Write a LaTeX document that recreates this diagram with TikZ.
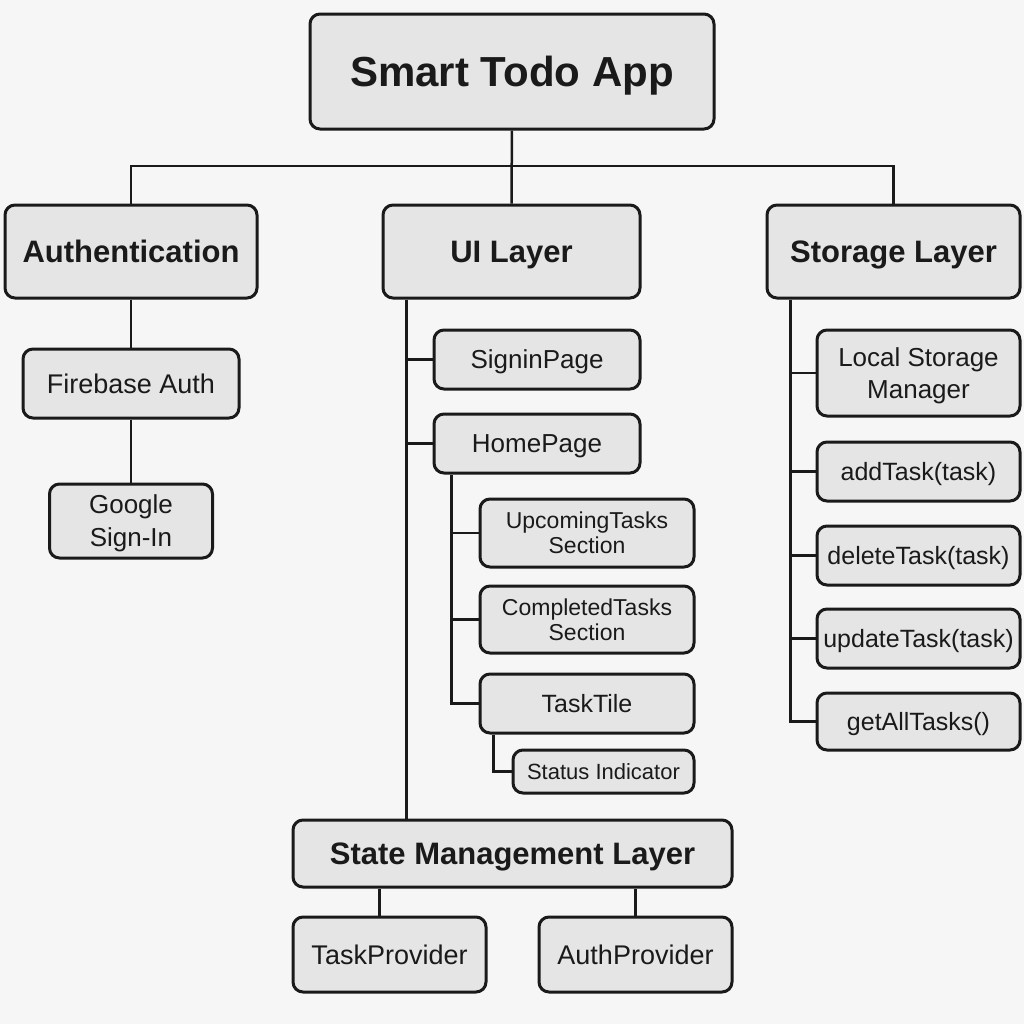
\documentclass[tikz,border=0pt]{standalone}
\usepackage{fontspec}
\setmainfont{Liberation Sans}
\usetikzlibrary{positioning}
\definecolor{paper}{HTML}{F6F6F6}
\definecolor{boxfill}{HTML}{E5E5E5}
\definecolor{ink}{HTML}{1A1A1A}

\begin{document}
\begin{tikzpicture}[x=0.5pt, y=-0.5pt, node distance=11pt,
        box/.style={draw=ink, fill=boxfill, line width=1.5pt, rounded corners=5pt, inner sep=0pt, align=center, text=ink, text depth=0pt},
        root/.style={box, minimum width=202pt, minimum height=57.5pt, text height=15.1pt, font=\bfseries\fontsize{21}{25}\selectfont},
        layer/.style={box, minimum height=46.5pt, text height=11.2pt, font=\bfseries\fontsize{15.5}{18}\selectfont},
        module/.style={box, text height=9.7pt, font=\fontsize{13.5}{16.5}\selectfont},
        page/.style={box, minimum width=103pt, minimum height=29.5pt, text height=9.4pt, font=\fontsize{13}{16}\selectfont},
        method/.style={box, minimum width=101.5pt, minimum height=29.5pt, text height=9pt, font=\fontsize{12.5}{15}\selectfont},
        part/.style={box, minimum width=107pt, text height=20.8pt, font=\fontsize{11.5}{12.5}\selectfont},
        wire/.style={draw=ink, line width=1.25pt}]

        \fill[paper] (0,0) rectangle (1024,1024);
        \useasboundingbox (0,0) rectangle (1024,1024);

        \node[root] (app) at (512,71.5) {Smart Todo App};
        \node[layer, minimum width=126pt] (auth) at (131,251.5) {Authentication};
        \node[layer, minimum width=128.5pt] (ui) at (511.5,251.5) {UI Layer};
        \node[layer, minimum width=126.5pt] (storage) at (893.5,251.5) {Storage Layer};

        \node[module, minimum width=108pt, minimum height=34.5pt] (firebase) [below = 24pt of auth] {Firebase Auth};
        \node[module, minimum width=81.5pt, minimum height=37pt, text height=25.9pt, font=\fontsize{13}{16.5}\selectfont] (google) [below = 31.5pt of firebase] {Google\\Sign-In};

        \node[page] (signin) at (537,359.5) {SigninPage};
        \node[page] (home) at (537,443.5) {HomePage};
        \node[part, minimum height=34pt] (upcoming) at (587,533) {UpcomingTasks\\Section};
        \node[part, minimum height=33.5pt] (completed) at (587,619.5) {CompletedTasks\\Section};
        \node[part, minimum height=29.5pt, text height=9pt, font=\fontsize{12.5}{15}\selectfont] (tasktile) at (587,703.5) {TaskTile};
        \node[part, minimum width=90.5pt, minimum height=21.5pt, text height=7.9pt, font=\fontsize{11}{13}\selectfont] (status) at (603.5,771.5) {Status Indicator};

        \node[layer, minimum width=219.5pt, minimum height=33.5pt] (state) at (512.5,853.5) {State Management Layer};
        \node[module, minimum width=96.5pt, minimum height=37.5pt] (taskprov) at (389.5,954.5) {TaskProvider};
        \node[module, minimum width=96.5pt, minimum height=37.5pt] (authprov) at (635.5,954.5) {AuthProvider};

        \node[method, minimum height=43pt, text height=25.4pt, font=\fontsize{13}{16}\selectfont] (localstore) at (918.5,373) {Local Storage\\Manager};
        \node[method] (addtask) [below = 11.5pt of localstore] {addTask(task)};
        \node[method] (deletetask) [below = of addtask] {deleteTask(task)};
        \node[method] (updatetask) [below = 10.5pt of deletetask] {updateTask(task)};
        \node[method, minimum height=28.5pt] (getall) [below = of updatetask] {getAllTasks()};

        \coordinate (bus) at (512,166);
        \draw[wire] (app) -- (ui);
        \draw[wire] (auth.north) |- (bus) -| (storage.north);

        \draw[wire] (auth) -- (firebase);
        \draw[wire] (firebase) -- (google);

        \coordinate (uirail) at ([xshift=12.5pt]ui.south west);
        \draw[wire] (uirail) -- (uirail |- state.north);
        \foreach \n in {signin, home}
            \draw[wire] (\n.west) -- (\n.west -| uirail);

        \coordinate (homerail) at ([xshift=9.5pt]home.south west);
        \draw[wire] (homerail) |- (tasktile.west);
        \foreach \n in {upcoming, completed}
            \draw[wire] (\n.west) -- (\n.west -| homerail);
        \draw[wire] ([xshift=7.5pt]tasktile.south west) |- (status.west);

        \draw[wire] ([xshift=-5pt]taskprov.north) -- ([xshift=-5pt]taskprov.north |- state.south);
        \draw[wire] (authprov.north) -- (authprov.north |- state.south);

        \coordinate (storerail) at ([xshift=12.5pt]storage.south west);
        \draw[wire] (storerail) |- (getall.west);
        \foreach \n in {localstore, addtask, deletetask, updatetask}
            \draw[wire] (\n.west) -- (\n.west -| storerail);

    \end{tikzpicture}
\end{document}
